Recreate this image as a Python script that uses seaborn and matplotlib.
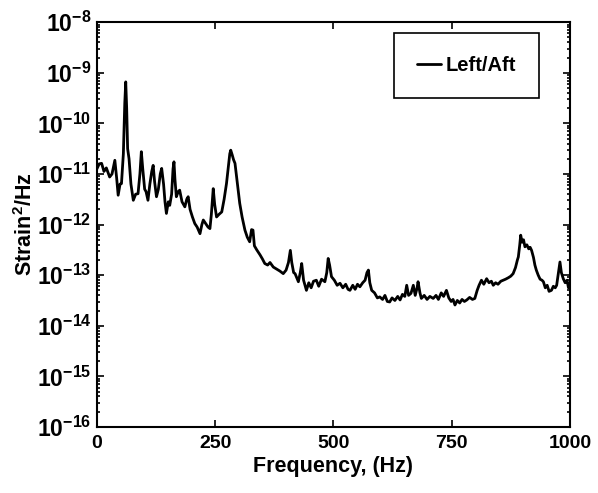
import matplotlib
matplotlib.use("Agg")
import matplotlib.pyplot as plt
import numpy as np
import pandas as pd
import seaborn as sns
from matplotlib.ticker import LogLocator, NullFormatter

# 周波数 (Hz)
freq = [
    0, 5, 10, 15, 20, 27, 32, 38, 42, 45, 49, 52, 56, 59, 61, 63, 65, 68, 72, 77,
    82, 87, 91, 94, 97, 101, 104, 108, 112, 116, 119, 122, 126, 130, 134, 137, 141, 144, 147, 151,
    154, 158, 161, 163, 165, 168, 172, 175, 180, 186, 190, 193, 197, 202, 207, 212, 218, 222, 225, 230,
    235, 239, 242, 246, 249, 253, 258, 264, 269, 274, 278, 281, 283, 286, 289, 292, 296, 299, 302, 307,
    313, 318, 323, 327, 330, 333, 338, 345, 350, 355, 361, 366, 373, 380, 387, 394, 400, 405, 409, 412,
    416, 419, 426, 430, 433, 437, 443, 448, 453, 458, 464, 469, 475, 482, 486, 489, 492, 496, 502, 508,
    514, 520, 526, 531, 535, 541, 546, 551, 556, 562, 567, 571, 574, 577, 581, 587, 593, 598, 604, 609,
    614, 619, 624, 630, 636, 641, 646, 651, 655, 659, 664, 669, 673, 677, 679, 683, 686, 692, 698, 704,
    711, 717, 722, 728, 733, 739, 744, 749, 753, 757, 762, 767, 772, 777, 782, 788, 794, 799, 804, 808,
    813, 818, 824, 829, 834, 838, 843, 848, 854, 859, 864, 870, 875, 880, 885, 889, 891, 894, 896, 899,
    902, 905, 909, 913, 916, 919, 923, 926, 929, 933, 937, 941, 944, 948, 952, 956, 961, 965, 969, 972,
    975, 979, 982, 986, 990, 994, 997, 1000,
]

# log10(Strain^2/Hz)
log_psd = [
    -10.90, -10.80, -10.79, -10.95, -10.88, -11.06, -11.00, -10.73, -11.10, -11.42,
    -11.20, -11.19, -10.60, -9.60, -9.18, -9.70, -10.50, -10.70, -11.20, -11.52,
    -11.40, -11.39, -11.00, -10.56, -10.90, -11.30, -11.35, -11.52, -11.20, -10.95,
    -10.83, -11.15, -11.45, -11.30, -11.00, -10.89, -11.20, -11.55, -11.78, -11.55,
    -11.62, -11.40, -10.90, -10.76, -11.10, -11.45, -11.35, -11.32, -11.55, -11.65,
    -11.50, -11.45, -11.70, -11.85, -11.98, -12.05, -12.18, -12.00, -11.91, -11.98,
    -12.05, -12.08, -11.80, -11.29, -11.60, -11.85, -11.80, -11.75, -11.50, -11.19,
    -10.85, -10.60, -10.53, -10.62, -10.72, -10.79, -11.10, -11.35, -11.58, -11.85,
    -12.11, -12.25, -12.34, -12.10, -12.11, -12.42, -12.50, -12.60, -12.68, -12.77,
    -12.80, -12.75, -12.84, -12.88, -12.92, -12.97, -12.90, -12.75, -12.51, -12.75,
    -12.95, -12.97, -13.13, -12.95, -12.77, -13.10, -13.30, -13.15, -13.25, -13.12,
    -13.10, -13.22, -13.08, -13.13, -12.95, -12.67, -12.80, -13.03, -13.10, -13.20,
    -13.16, -13.25, -13.18, -13.28, -13.30, -13.20, -13.28, -13.18, -13.23, -13.15,
    -13.10, -12.95, -12.90, -13.15, -13.30, -13.35, -13.45, -13.43, -13.48, -13.40,
    -13.52, -13.53, -13.45, -13.50, -13.42, -13.49, -13.38, -13.42, -13.20, -13.40,
    -13.36, -13.20, -13.40, -13.25, -13.13, -13.35, -13.46, -13.40, -13.48, -13.42,
    -13.46, -13.40, -13.48, -13.35, -13.42, -13.30, -13.45, -13.52, -13.48, -13.59,
    -13.50, -13.55, -13.48, -13.52, -13.49, -13.44, -13.48, -13.46, -13.30, -13.20,
    -13.10, -13.18, -13.07, -13.15, -13.12, -13.20, -13.15, -13.18, -13.12, -13.10,
    -13.08, -13.05, -13.02, -12.97, -12.85, -12.70, -12.64, -12.40, -12.21, -12.35,
    -12.30, -12.44, -12.40, -12.48, -12.45, -12.51, -12.65, -12.80, -12.90, -13.00,
    -13.08, -13.10, -13.13, -13.25, -13.20, -13.32, -13.30, -13.22, -13.25, -13.20,
    -13.00, -12.74, -12.95, -13.07, -13.15, -13.10, -13.25, -13.23,
]

x_ticks = [0, 250, 500, 750, 1000]
y_decades = list(range(-16, -7))

df = pd.DataFrame({"freq": freq, "psd": 10.0 ** np.array(log_psd), "series": "Left/Aft"})

sns.set_style("ticks")
plt.rcParams["font.family"] = ["Liberation Sans", "DejaVu Sans"]
plt.rcParams["font.weight"] = "bold"
plt.rcParams["mathtext.fontset"] = "custom"
plt.rcParams["mathtext.rm"] = "Liberation Sans:bold"
plt.rcParams["mathtext.bf"] = "Liberation Sans:bold"
for k in ["text.color", "axes.labelcolor", "xtick.color", "ytick.color"]:
    plt.rcParams[k] = "black"

fig = plt.figure(figsize=(5.98, 4.93), dpi=100)
ax = fig.add_axes([0.162, 0.134, 0.791, 0.821])

sns.lineplot(data=df, x="freq", y="psd", hue="series", palette=["black"],
             linewidth=2.0, ax=ax)

ax.set_yscale("log")
ax.set_xlim(0, 1000)
ax.set_ylim(1e-16, 1e-8)
ax.set_xticks(x_ticks)
ax.set_xticklabels([str(t) for t in x_ticks])
ax.set_yticks([10.0 ** d for d in y_decades])
ax.set_yticklabels([f"$\\mathrm{{10^{{{d}}}}}$" for d in y_decades])
ax.yaxis.set_minor_locator(LogLocator(base=10, subs=np.arange(2, 10), numticks=20))
ax.yaxis.set_minor_formatter(NullFormatter())

ax.tick_params(axis="both", which="both", direction="in", top=True, right=True,
               pad=6, width=1.2)
ax.tick_params(axis="x", labelsize=14)
ax.tick_params(axis="y", labelsize=16.5, pad=4)
ax.tick_params(which="major", length=5)
ax.tick_params(which="minor", length=2.5)
for s in ax.spines.values():
    s.set_linewidth(1.5)
    s.set_color("black")

ax.set_xlabel("Frequency, (Hz)", fontsize=15.5, fontweight="bold", labelpad=3)
ax.set_ylabel("Strain$^\\mathrm{2}$/Hz", fontsize=15.5, fontweight="bold", labelpad=0)

leg = ax.legend(loc="upper right", bbox_to_anchor=(0.934, 0.973), borderaxespad=0,
                fontsize=14.5, handlelength=1.2, handletextpad=0.2, borderpad=1.15,
                fancybox=False, framealpha=1, edgecolor="black")
leg.get_frame().set_linewidth(1.2)

fig.savefig("out.png", dpi=100)
plt.close(fig)
